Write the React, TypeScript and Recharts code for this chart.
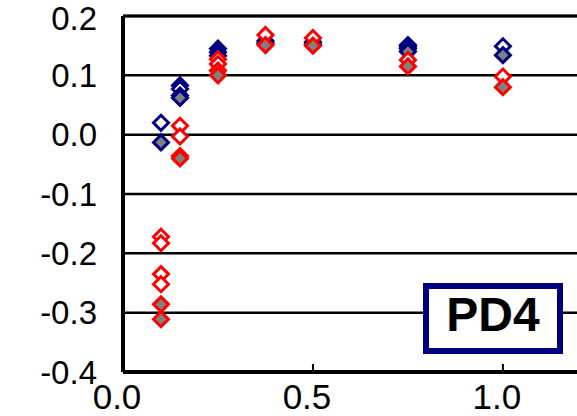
import React from "react"
import { ScatterChart, Scatter, XAxis, YAxis, CartesianGrid, ReferenceLine } from "recharts"

const xTicks = [0, 0.5, 1.0]
const yTicks = [-0.4, -0.3, -0.2, -0.1, 0, 0.1, 0.2]

// navy, open
const blueOpenX = [0.1, 0.15, 0.15, 0.25, 0.25, 0.375, 0.5, 0.75, 0.75, 0.75, 1.0]
const blueOpenY = [0.02, 0.083, 0.077, 0.145, 0.139, 0.158, 0.156, 0.151, 0.148, 0.145, 0.149]

// navy, grey filled
const blueGrayX = [0.1, 0.15, 0.15, 0.25, 0.375, 0.5, 0.75, 1.0]
const blueGrayY = [-0.013, 0.066, 0.062, 0.133, 0.154, 0.152, 0.14, 0.134]

// red, open
const redOpenX = [0.1, 0.1, 0.1, 0.1, 0.15, 0.15, 0.25, 0.25, 0.375, 0.5, 0.75, 1.0]
const redOpenY = [-0.172, -0.183, -0.235, -0.252, 0.015, -0.003, 0.127, 0.119, 0.168, 0.163, 0.126, 0.098]

// red, grey filled
const redGrayX = [0.1, 0.1, 0.15, 0.15, 0.25, 0.25, 0.375, 0.5, 0.75, 1.0]
const redGrayY = [-0.286, -0.311, -0.036, -0.04, 0.108, 0.1, 0.151, 0.15, 0.115, 0.08]

const toPoints = (xs: number[], ys: number[]) => xs.map((x, i) => ({ x, y: ys[i] }))

const font = "'Liberation Sans', Arial, sans-serif"

const diamond = (stroke: string, fill: string) => (props: any) => {
    const { cx, cy } = props
    const r = 7.5
    return (
        <polygon
            points={`${cx},${cy - r} ${cx + r},${cy} ${cx},${cy + r} ${cx - r},${cy}`}
            fill={fill}
            stroke={stroke}
            strokeWidth={3}
        />
    )
}

const XTick = (props: any) => {
    const { x, y, payload } = props
    return (
        <g>
            <line x1={x} x2={x} y1={y} y2={y - 8} stroke="#000" strokeWidth={2} />
            <text x={x - 6} y={y + 37} textAnchor="middle" fontSize={35} fontFamily={font} fill="#000">
                {Number(payload.value).toFixed(1)}
            </text>
        </g>
    )
}

export default function App() {
    return (
        <div style={{ position: "absolute", left: 0, top: 0, width: 577, height: 416, background: "#fff" }}>
            <ScatterChart width={577} height={416} margin={{ top: 16, right: 0, bottom: 0, left: 0 }}>
                <CartesianGrid horizontal vertical={false} stroke="#000" strokeWidth={2.5} />
                <ReferenceLine y={0.2} stroke="#000" strokeWidth={3} />
                <XAxis
                    type="number"
                    dataKey="x"
                    domain={[0, 1.195]}
                    ticks={xTicks}
                    allowDataOverflow
                    height={44}
                    tickSize={0}
                    tickMargin={0}
                    tickLine={false}
                    axisLine={{ stroke: "#000", strokeWidth: 4 }}
                    tick={<XTick />}
                />
                <YAxis
                    type="number"
                    dataKey="y"
                    domain={[-0.4, 0.2]}
                    ticks={yTicks}
                    allowDataOverflow
                    width={123}
                    tickSize={0}
                    tickMargin={26}
                    tickLine={false}
                    axisLine={{ stroke: "#000", strokeWidth: 4 }}
                    tick={{ fill: "#000", fontSize: 33, fontFamily: font }}
                    tickFormatter={(v) => Number(v).toFixed(1)}
                />
                <Scatter data={toPoints(blueOpenX, blueOpenY)} shape={diamond("#000080", "#fff")} isAnimationActive={false} />
                <Scatter data={toPoints(blueGrayX, blueGrayY)} shape={diamond("#000080", "#808080")} isAnimationActive={false} />
                <Scatter data={toPoints(redOpenX, redOpenY)} shape={diamond("#ff0000", "#fff")} isAnimationActive={false} />
                <Scatter data={toPoints(redGrayX, redGrayY)} shape={diamond("#ff0000", "#808080")} isAnimationActive={false} />
            </ScatterChart>
            <div
                style={{
                    position: "absolute",
                    left: 423,
                    top: 283,
                    width: 140,
                    height: 71,
                    boxSizing: "border-box",
                    border: "6px solid #000080",
                    background: "#fff",
                    display: "flex",
                    alignItems: "center",
                    justifyContent: "center",
                    paddingBottom: 8,
                    fontFamily: font,
                    fontWeight: "bold",
                    fontSize: 48,
                    color: "#000",
                }}
            >
                PD4
            </div>
        </div>
    )
}
